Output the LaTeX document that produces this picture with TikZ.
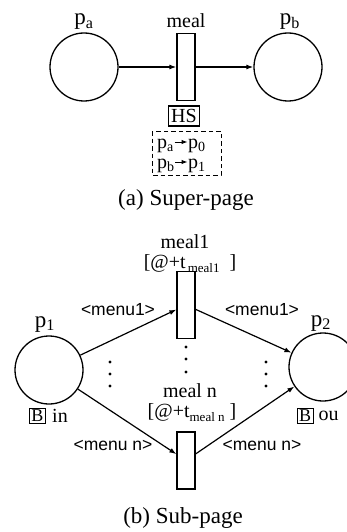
\documentclass[tikz,border=0pt]{standalone}
\usepackage{fontspec}
\setmainfont{Liberation Serif}
\newfontfamily\sansf{Liberation Sans}
\usetikzlibrary{arrows.meta}
\tikzset{
  place/.style={circle, draw, line width=1.3pt, minimum size=68pt, inner sep=0pt},
  trans/.style={rectangle, draw, line width=1.3pt, minimum width=18pt, minimum height=67pt, inner sep=0pt},
  arc/.style={line width=1.2pt, -{Latex[length=7pt,width=5pt]}},
  lbl/.style={font=\fontsize{20}{22}\selectfont, inner sep=0pt},
  plbl/.style={font=\fontsize{23}{25}\selectfont, inner sep=0pt},
  small/.style={font=\fontsize{20}{22}\selectfont, inner sep=0pt},
  menu/.style={font=\sansf\fontsize{17.5}{19}\selectfont, inner sep=0pt},
  captext/.style={font=\fontsize{23}{25}\selectfont, inner sep=0pt},
  tagbox/.style={draw, line width=1pt, inner sep=2pt, font=\fontsize{18}{20}\selectfont},
  maparrow/.style={line width=1pt, -{Latex[length=6pt,width=4.5pt]}},
  dot/.style={circle, fill, inner sep=0pt, minimum size=3.4pt}
}
\begin{document}
\begin{tikzpicture}[x=1pt,y=-1pt]
\clip (0,0) rectangle (347,532);
\fill[white] (0,0) rectangle (347,532);
% ---------- (a) Super-page ----------
\node[place] (pa) at (84,67) {};
\node[place] (pb) at (288,67) {};
\node[trans] (meal) at (186,67) {};
\node[plbl, anchor=base] (lpa) at (84,25) {p\textsubscript{a}};
\node[plbl, anchor=base] (lpb) at (290,25) {p\textsubscript{b}};
\node[lbl, anchor=base] (lmeal) at (186,28) {meal};
\draw[arc] (pa) -- (meal);
\draw[arc] (meal) -- (pb);
\node[draw, line width=1.1pt, minimum width=31pt, minimum height=20pt, inner sep=0pt,
      font=\fontsize{20}{22}\selectfont] (hs) at (184,116) {HS};
\draw[dashed, line width=1pt, dash pattern=on 4.5pt off 3pt] (152,131) rectangle (221,175);
\node[small, anchor=base west] (ma) at (157,148) {p\textsubscript{a}};
\node[small, anchor=base west] (m0) at (188,148) {p\textsubscript{0}};
\node[small, anchor=base west] (mb) at (157,168) {p\textsubscript{b}};
\node[small, anchor=base west] (m1) at (188,168) {p\textsubscript{1}};
\draw[maparrow] ([xshift=0.5pt,yshift=6pt]ma.base east) -- ([xshift=-0.5pt,yshift=6pt]m0.base west);
\draw[maparrow] ([xshift=0.5pt,yshift=6pt]mb.base east) -- ([xshift=-0.5pt,yshift=6pt]m1.base west);
\node[captext, anchor=base] (capa) at (186,205) {(a) Super-page};
% ---------- (b) Sub-page ----------
\node[place] (p1) at (49,370) {};
\node[place] (p2) at (323,367) {};
\node[trans] (t1) at (186,305) {};
\node[trans, minimum height=57pt] (tn) at (186,460.5) {};
\node[plbl, anchor=base] (lp1) at (45,327) {p\textsubscript{1}};
\node[plbl, anchor=base] (lp2) at (321,326) {p\textsubscript{2}};
\node[lbl, anchor=base] (lt1) at (185,248) {meal1};
\node[lbl, anchor=base] (gt1) at (190,268) {[@+t\raisebox{-4pt}{\fontsize{13}{14}\selectfont\,meal1}\ \ ]};
\node[lbl, anchor=base] (ltn) at (190,397) {meal n};
\node[lbl, anchor=base] (gtn) at (192,417) {[@+t\raisebox{-4pt}{\fontsize{13}{14}\selectfont meal n}\ ]};
\draw[arc] (p1) -- (t1);
\draw[arc] (t1) -- (p2);
\draw[arc] (p1) -- (tn);
\draw[arc] (tn) -- (p2);
\node[menu] (m1l) at (118,310) {<menu1>};
\node[menu] (m1r) at (262,310) {<menu1>};
\node[menu] (mnl) at (113,445) {<menu n>};
\node[menu] (mnr) at (262,445) {<menu n>};
\foreach \x/\y [count=\i] in {110/362,110/374,110/386,186/347,186/359,186/372,266/362,266/374,266/386}
  \node[dot] (d\i) at (\x,\y) {};
\node[tagbox] (bin) at (37.5,416) {B};
\node[lbl, anchor=west] (tin) at ([xshift=6pt]bin.east) {in};
\node[tagbox] (bou) at (305,416) {B};
\node[lbl, anchor=west] (tou) at ([xshift=5pt]bou.east) {ou};
\node[captext, anchor=base] (capb) at (183,523) {(b) Sub-page};
\end{tikzpicture}
\end{document}
